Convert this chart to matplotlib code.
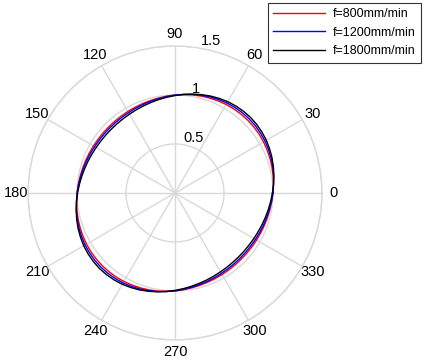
import numpy as np
import matplotlib
matplotlib.use("Agg")
import matplotlib.pyplot as plt

plt.rcParams['font.family'] = ['Liberation Sans', 'DejaVu Sans']

# angles in degrees (every 5 deg, closed at 360)
theta_deg = list(range(0, 365, 5))

half_red = [1.000, 1.007, 1.016, 1.024, 1.031, 1.037, 1.043, 1.047, 1.049,
            1.050, 1.049, 1.047, 1.043, 1.037, 1.031, 1.024, 1.016, 1.007,
            1.000, 0.991, 0.983, 0.976, 0.970, 0.965, 0.961, 0.958, 0.956,
            0.955, 0.956, 0.958, 0.961, 0.965, 0.970, 0.976, 0.983, 0.991]
half_blue = [0.999, 1.010, 1.022, 1.033, 1.043, 1.052, 1.060, 1.065, 1.069,
             1.070, 1.069, 1.065, 1.060, 1.052, 1.043, 1.033, 1.022, 1.010,
             0.999, 0.988, 0.977, 0.968, 0.960, 0.953, 0.947, 0.943, 0.941,
             0.940, 0.941, 0.943, 0.947, 0.953, 0.960, 0.968, 0.977, 0.988]
half_black = [0.994, 1.009, 1.024, 1.039, 1.053, 1.065, 1.076, 1.083, 1.088,
              1.090, 1.088, 1.083, 1.076, 1.065, 1.053, 1.039, 1.024, 1.009,
              0.994, 0.980, 0.967, 0.955, 0.945, 0.936, 0.929, 0.924, 0.921,
              0.920, 0.921, 0.924, 0.929, 0.936, 0.945, 0.955, 0.967, 0.980]

r_800 = half_red + half_red + [half_red[0]]
r_1200 = half_blue + half_blue + [half_blue[0]]
r_1800 = half_black + half_black + [half_black[0]]

labels = ['f=800mm/min', 'f=1200mm/min', 'f=1800mm/min']
colors = ['#ff0000', '#0000ff', '#000000']
r_ticks = [0.5, 1, 1.5]
r_tick_labels = ['0.5', '1', '1.5']
theta_ticks = list(range(0, 360, 30))

fig = plt.figure(figsize=(4.25, 3.63), dpi=100)
ax = fig.add_axes([0.0659, 0.0634, 0.6918, 0.81], projection='polar')

th = np.deg2rad(theta_deg)
handles = []
for r, c, lab in zip([r_800, r_1200, r_1800], colors, labels):
    h, = ax.plot(th, r, color=c, lw=1.0, label=lab)
    handles.append(h)

ax.set_ylim(0, 1.5)
ax.set_yticks(r_ticks)
ax.set_yticklabels(r_tick_labels, fontsize=10.5)
ax.set_rlabel_position(80)
ax.set_xticks(np.deg2rad(theta_ticks))
ax.set_xticklabels([str(t) for t in theta_ticks], fontsize=10.5)
ax.tick_params(axis='x', pad=-2)
ax.grid(True, color='#d9d9d9', lw=1.0)
ax.spines['polar'].set_color('#d9d9d9')
ax.spines['polar'].set_linewidth(1.0)

leg = fig.legend(handles=handles, loc='upper right', bbox_to_anchor=(0.9906, 0.9917),
                 fontsize=9, frameon=True, fancybox=False, edgecolor='black',
                 handlelength=4.2, handletextpad=0.6, labelspacing=0.52,
                 borderpad=0.42, borderaxespad=0)
leg.get_frame().set_linewidth(0.8)

fig.savefig('out.png', dpi=100)
